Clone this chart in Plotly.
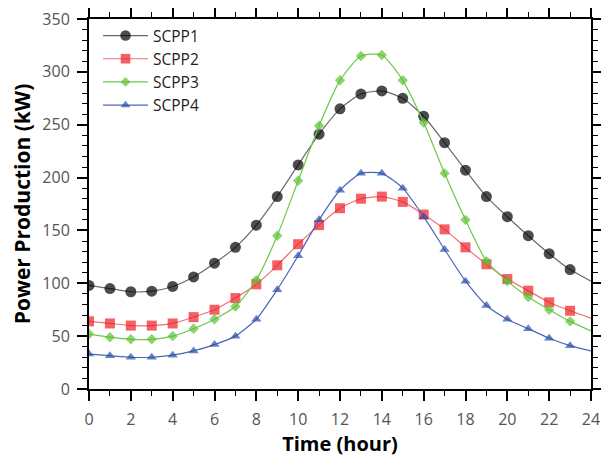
import plotly.graph_objects as go

hours = list(range(0, 25))
scpp1 = [98, 95, 92, 92.5, 97, 106, 119, 134, 155, 182, 212, 241, 265, 279, 282, 275, 258, 233, 207, 182, 163, 145, 128, 113, 102]
scpp2 = [64, 62, 60, 60, 62, 68, 75, 86, 99, 117, 137, 155, 171, 180, 182, 177, 165, 151, 134, 118, 104, 93, 82, 74, 67]
scpp3 = [52, 49, 47, 47, 50, 57, 66, 78, 103, 145, 197, 249, 292, 315, 316, 292, 252, 204, 160, 121, 102, 87, 75, 64, 55]
scpp4 = [33, 31.5, 30, 30, 32, 36, 42, 50, 66, 94, 126, 160, 188, 204, 204, 190, 163, 132, 102, 79, 66, 57, 48, 41, 36]

names = ["SCPP1", "SCPP2", "SCPP3", "SCPP4"]
series = [scpp1, scpp2, scpp3, scpp4]
mcolors = ["#000000", "#ee1c25", "#5cc132", "#2a4fa8"]
lcolors = ["#6a6a6a", "#f07070", "#6cc84a", "#4a66b8"]
symbols = ["circle", "square", "diamond", "triangle-up"]
sizes = [11, 10, 8, 9]

fig = go.Figure()
for n, ys, mc, lc, sym, sz in zip(names, series, mcolors, lcolors, symbols, sizes):
    fig.add_trace(go.Scatter(
        x=hours, y=ys, name=n, mode="lines+markers",
        line=dict(color=lc, width=1.2, shape="spline", smoothing=0.6),
        marker=dict(color=mc, symbol=sym, size=[sz] * 24 + [0], line=dict(width=0)),
    ))

axis_common = dict(
    showline=True, linecolor="#000000", linewidth=2, mirror="ticks",
    ticks="outside", ticklen=10, tickwidth=1.5, tickcolor="#000000",
    showgrid=False, zeroline=False, automargin=False,
    ticklabeloverflow="allow",
    tickfont=dict(family="Open Sans", size=16, color="#555555"),
)

fig.update_xaxes(
    range=[0, 24], tickmode="linear", tick0=0, dtick=2,
    minor=dict(ticks="outside", ticklen=5, tickwidth=1.2, tickcolor="#000000", dtick=1, tick0=0),
    ticklabelstandoff=5,
    title=dict(text="Time (hour)", font=dict(family="Open Sans", size=20, color="black", weight="bold"), standoff=3),
    **axis_common,
)
fig.update_yaxes(
    range=[0, 350], tickmode="linear", tick0=0, dtick=50,
    minor=dict(ticks="outside", ticklen=5, tickwidth=1.2, tickcolor="#000000", dtick=10, tick0=0),
    ticklabelstandoff=4,
    title=dict(text="Power Production (kW)", font=dict(family="Open Sans", size=21, color="black", weight="bold"), standoff=6),
    **axis_common,
)

fig.update_layout(
    template="none",
    width=609, height=457,
    margin=dict(l=81, r=26, t=11, b=76, autoexpand=False),
    paper_bgcolor="white", plot_bgcolor="white",
    showlegend=True,
    legend=dict(
        x=0.018, y=1.0, xanchor="left", yanchor="top",
        bgcolor="rgba(0,0,0,0)", borderwidth=0,
        font=dict(family="Open Sans", size=15.5, color="#222222"),
        tracegroupgap=0, itemwidth=45,
    ),
)

fig.write_html("out.html")
